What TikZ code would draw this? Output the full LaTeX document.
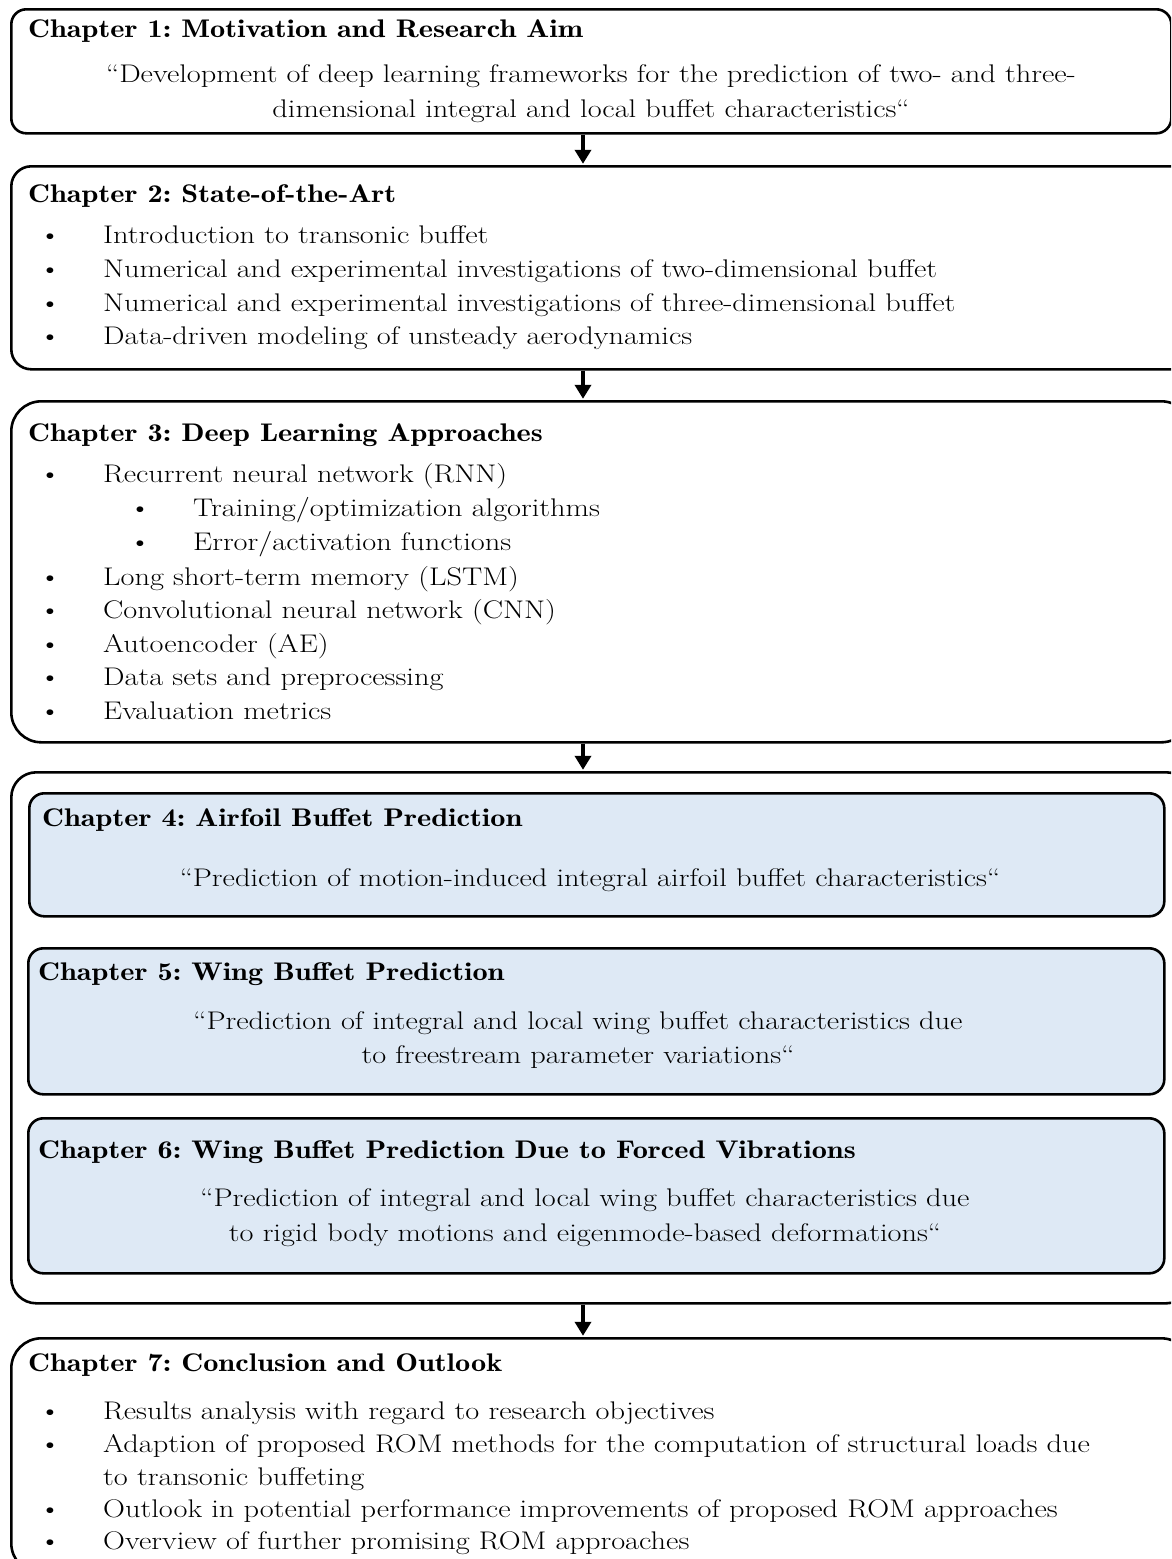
\documentclass[tikz,border=0pt]{standalone}
\usepackage{fontspec}
\usepackage{graphicx}
\newfontfamily\titlefont{lmromandemi10-regular}[Extension=.otf]
\newcommand{\hs}[1]{\scalebox{1.19}[1]{#1}}
\usetikzlibrary{arrows.meta}
\definecolor{chapblue}{RGB}{222,233,245}
\begin{document}
\begin{tikzpicture}[x=1pt,y=-1pt,
  frame/.style={draw=black, line width=2.6pt, inner sep=0pt, anchor=north west},
  bluebox/.style={frame, fill=chapblue},
  title/.style={anchor=base west, inner sep=0pt, font=\fontsize{25.5}{30}\titlefont\frenchspacing},
  body/.style={anchor=base west, inner sep=0pt, font=\fontsize{25.5}{34}\selectfont\frenchspacing},
  quote/.style={anchor=base, inner sep=0pt, font=\fontsize{25.5}{34}\selectfont\frenchspacing},
  bul/.style={anchor=base, inner sep=0pt, font=\fontsize{25.5}{34}\selectfont},
  arr/.style={line width=4.5pt, -{Triangle[length=14pt,width=16pt]}, shorten >=1.2pt}]
\useasboundingbox (0,0) rectangle (1171,1559);
\clip (0,0) rectangle (1171,1559);
\fill[white] (0,0) rectangle (1171,1559);

% boxes
\node[frame, rounded corners=15pt, minimum width=1160pt, minimum height=124pt] (b1) at (10,8) {};
\node[frame, rounded corners=20pt, minimum width=1180pt, minimum height=203pt] (b2) at (10,165) {};
\node[frame, rounded corners=30pt, minimum width=1180pt, minimum height=341pt] (b3) at (10,400) {};
\node[frame, rounded corners=25pt, minimum width=1180pt, minimum height=531pt] (bg) at (10,771) {};
\node[bluebox, rounded corners=15pt, minimum width=1135pt, minimum height=123pt] (b4) at (28,792) {};
\node[bluebox, rounded corners=15pt, minimum width=1136pt, minimum height=146pt] (b5) at (27,947) {};
\node[bluebox, rounded corners=15pt, minimum width=1136pt, minimum height=155pt] (b6) at (27,1117) {};
\node[frame, rounded corners=30pt, minimum width=1180pt, minimum height=235pt] (b7) at (10,1337) {};

% arrows
\coordinate (ax) at (583,0);
\draw[arr] (b1.south -| ax) -- (b2.north -| ax);
\draw[arr] (b2.south -| ax) -- (b3.north -| ax);
\draw[arr] (b3.south -| ax) -- (bg.north -| ax);
\draw[arr] (bg.south -| ax) -- (b7.north -| ax);

% Chapter 1
\node[title] (t1) at (28,37) {\hs{Chapter 1: Motivation and Research Aim}};
\node[quote] (q1a) at (591,82) {\hs{“Development of deep learning frameworks for the prediction of two- and three-}};
\node[quote] (q1b) at (591,117) {\hs{dimensional integral and local buffet characteristics“}};

% Chapter 2
\node[title] (t2) at (28,202) {\hs{Chapter 2: State-of-the-Art}};
\node[bul] (p21) at (50,243) {\hs{\textbullet}};
\node[body] (s21) at (103,243) {\hs{Introduction to transonic buffet}};
\node[bul] (p22) at (50,277) {\hs{\textbullet}};
\node[body] (s22) at (103,277) {\hs{Numerical and experimental investigations of two-dimensional buffet}};
\node[bul] (p23) at (50,311) {\hs{\textbullet}};
\node[body] (s23) at (103,311) {\hs{Numerical and experimental investigations of three-dimensional buffet}};
\node[bul] (p24) at (50,344) {\hs{\textbullet}};
\node[body] (s24) at (103,344) {\hs{Data-driven modeling of unsteady aerodynamics}};

% Chapter 3
\node[title] (t3) at (28,441) {\hs{Chapter 3: Deep Learning Approaches}};
\node[bul] (p31) at (50,482) {\hs{\textbullet}};
\node[body] (s31) at (103,482) {\hs{Recurrent neural network (RNN)}};
\node[bul] (p32) at (140,516) {\hs{\textbullet}};
\node[body] (s32) at (193,516) {\hs{Training/optimization algorithms}};
\node[bul] (p33) at (140,550) {\hs{\textbullet}};
\node[body] (s33) at (193,550) {\hs{Error/activation functions}};
\node[bul] (p34) at (50,585) {\hs{\textbullet}};
\node[body] (s34) at (103,585) {\hs{Long short-term memory (LSTM)}};
\node[bul] (p35) at (50,618) {\hs{\textbullet}};
\node[body] (s35) at (103,618) {\hs{Convolutional neural network (CNN)}};
\node[bul] (p36) at (50,652) {\hs{\textbullet}};
\node[body] (s36) at (103,652) {\hs{Autoencoder (AE)}};
\node[bul] (p37) at (50,685) {\hs{\textbullet}};
\node[body] (s37) at (103,685) {\hs{Data sets and preprocessing}};
\node[bul] (p38) at (50,719) {\hs{\textbullet}};
\node[body] (s38) at (103,719) {\hs{Evaluation metrics}};

% Chapter 4
\node[title] (t4) at (42,826) {\hs{Chapter 4: Airfoil Buffet Prediction}};
\node[quote] (q4) at (590,886) {\hs{“Prediction of motion-induced integral airfoil buffet characteristics“}};

% Chapter 5
\node[title] (t5) at (38,980) {\hs{Chapter 5: Wing Buffet Prediction}};
\node[quote] (q5a) at (578,1029) {\hs{“Prediction of integral and local wing buffet characteristics due}};
\node[quote] (q5b) at (578,1063) {\hs{to freestream parameter variations“}};

% Chapter 6
\node[title] (t6) at (38,1158) {\hs{Chapter 6: Wing Buffet Prediction Due to Forced Vibrations}};
\node[quote] (q6a) at (585,1206) {\hs{“Prediction of integral and local wing buffet characteristics due}};
\node[quote] (q6b) at (585,1241) {\hs{to rigid body motions and eigenmode-based deformations“}};

% Chapter 7
\node[title] (t7) at (28,1371) {\hs{Chapter 7: Conclusion and Outlook}};
\node[bul] (p71) at (50,1419) {\hs{\textbullet}};
\node[body] (s71) at (103,1419) {\hs{Results analysis with regard to research objectives}};
\node[bul] (p72) at (50,1452) {\hs{\textbullet}};
\node[body] (s72) at (103,1452) {\hs{Adaption of proposed ROM methods for the computation of structural loads due}};
\node[body] (s72b) at (103,1485) {\hs{to transonic buffeting}};
\node[bul] (p73) at (50,1517) {\hs{\textbullet}};
\node[body] (s73) at (103,1517) {\hs{Outlook in potential performance improvements of proposed ROM approaches}};
\node[bul] (p74) at (50,1549) {\hs{\textbullet}};
\node[body] (s74) at (103,1549) {\hs{Overview of further promising ROM approaches}};
\end{tikzpicture}
\end{document}
